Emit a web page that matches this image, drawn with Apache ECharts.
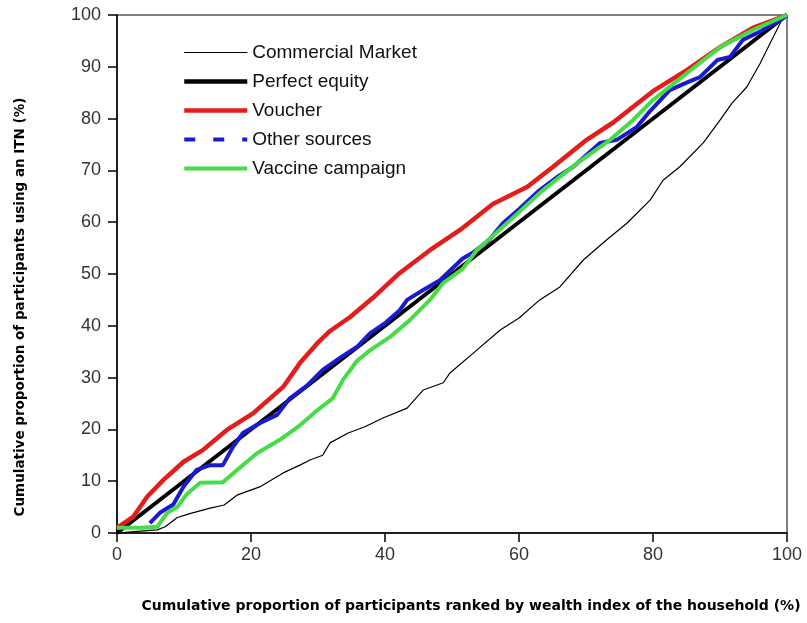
<!DOCTYPE html>
<html>
<head>
<meta charset="utf-8">
<script src="https://cdn.jsdelivr.net/npm/echarts@6/dist/echarts.min.js"></script>
<style>
  html, body { margin: 0; padding: 0; background: #fff; }
  #chart { width: 807px; height: 623px; }
</style>
</head>
<body>
<div id="chart"></div>
<script>
// series names
var seriesNames = ['Commercial Market', 'Perfect equity', 'Voucher', 'Other sources', 'Vaccine campaign'];

// [x %, y %]
var commercialMarket = [[0,0],[3,0.3],[6,0.6],[7.2,1.2],[9,3],[11,3.8],[13.9,4.8],[16,5.4],[17.9,7.3],[21.3,8.9],[24.8,11.6],[27.3,13.1],[28.8,14.1],[30.7,15],[31.8,17.4],[34.5,19.3],[37,20.5],[39.7,22.2],[43.3,24.1],[45.7,27.6],[48.7,29],[49.7,30.9],[53.7,35.3],[57.2,39.2],[60,41.5],[63.1,45],[66.1,47.5],[69.6,52.7],[73.1,56.6],[76.1,59.8],[79.6,64.3],[81.5,68.1],[84,70.7],[87.5,75.3],[90,79.7],[91.8,83],[94,86.1],[96,90.7],[97.5,94.6],[99.2,99],[100,100]];
var perfectEquity = [[0,0],[100,100]];
var voucher = [[0,1],[2.4,3.1],[4.5,7],[6.9,10.2],[9.9,13.7],[12.8,16],[16.4,19.9],[20.3,23.1],[24.8,28.2],[27.3,32.8],[29.8,36.5],[31.8,39],[34.8,41.7],[38.2,45.4],[42.2,50.2],[46.7,54.6],[51.2,58.5],[56.1,63.5],[61.2,66.8],[65.1,70.7],[70.1,75.9],[74,79.2],[80,85.3],[85.1,89.4],[90,93.8],[94.9,97.5],[100,100]];
var otherSources = [[4.9,1.9],[6.4,3.9],[8.4,5.5],[9.9,8.9],[11.9,12.2],[13.9,13.1],[15.8,13.1],[17.3,16.6],[18.8,19.3],[21.3,21.2],[23.9,22.8],[25.8,26],[28.4,28.5],[30.7,31.5],[33.5,34],[35.8,35.9],[37.8,38.6],[40,40.5],[42.2,43],[43.3,45],[45.7,46.9],[48.2,48.8],[51.6,53],[53.1,54.1],[55.5,56.5],[57.6,59.8],[60,62.5],[63.1,66.2],[66,69],[68.1,70.7],[72.1,75.3],[74.6,75.9],[77.6,78.4],[79.6,81.5],[82.5,85.5],[85.1,87],[87,88],[89.6,91.3],[91.5,91.9],[93.4,95.2],[95.5,96.5],[99,99],[100,100]];
var vaccineCampaign = [[0,1],[3.9,1],[6,1.2],[7.5,3.9],[9,5],[10.4,7.5],[12.4,9.7],[15.8,9.8],[18.4,12.7],[20.9,15.4],[24.3,18],[27.3,20.8],[29.9,23.7],[32.2,26],[33.7,29.5],[35.8,33.2],[37.8,35.3],[40.7,37.8],[43.7,41.1],[46.7,45],[48.7,48.3],[51.6,51],[53.7,54.6],[58.7,60.4],[63.6,66.2],[68.7,71.4],[73.6,75.9],[77,79.7],[80,83.6],[85.1,88.8],[90,93.8],[94.9,97.1],[100,100]];

var xTitle = 'Cumulative proportion of participants ranked by wealth index of the household (%)';
var yTitle = 'Cumulative proportion of participants using an ITN (%)';

var myChart = echarts.init(document.getElementById('chart'));
var font = '"Liberation Sans", Arial, sans-serif';
var titleFont = '"DejaVu Sans", sans-serif';

var option = {
	animation: false,
	backgroundColor: '#fff',
	grid: {
		left: 117,
		right: 20,
		top: 15,
		bottom: 90,
		show: true,
		borderColor: '#000',
		borderWidth: 1
	},
	legend: {
		orient: 'vertical',
		left: 177,
		top: 38,
		itemWidth: 63,
		itemHeight: 14,
		itemGap: 10,
		itemStyle: { opacity: 0 },
		textStyle: { fontFamily: font, fontSize: 19, color: '#111' },
		data: [
			{ name: seriesNames[0], lineStyle: { width: 1.2 } },
			{ name: seriesNames[1], lineStyle: { width: 4.5 } },
			{ name: seriesNames[2], lineStyle: { width: 4.5 } },
			{ name: seriesNames[3], lineStyle: { type: [11, 18], width: 4 } },
			{ name: seriesNames[4], lineStyle: { width: 4 } }
		]
	},
	xAxis: {
		type: 'value',
		min: 0,
		max: 100,
		interval: 20,
		axisLine: { lineStyle: { color: '#000', width: 1.5 } },
		axisTick: { length: 9, lineStyle: { color: '#000', width: 1.5 } },
		axisLabel: { fontFamily: font, fontSize: 18, color: '#333', margin: 13 },
		splitLine: { show: false }
	},
	yAxis: {
		type: 'value',
		min: 0,
		max: 100,
		interval: 10,
		axisLine: { show: true, lineStyle: { color: '#000', width: 1.5 } },
		axisTick: { show: true, length: 9, lineStyle: { color: '#000', width: 1.5 } },
		axisLabel: { fontFamily: font, fontSize: 18, color: '#333', margin: 16 },
		splitLine: { show: false }
	},
	graphic: [
		{
			type: 'text',
			x: 471,
			y: 606,
			style: {
				text: xTitle,
				font: 'bold 14px ' + titleFont,
				fill: '#000',
				align: 'center',
				verticalAlign: 'middle'
			}
		},
		{
			type: 'text',
			x: 20,
			y: 307,
			rotation: Math.PI / 2,
			style: {
				text: yTitle,
				font: 'bold 13.5px ' + titleFont,
				fill: '#000',
				align: 'center',
				verticalAlign: 'middle'
			}
		}
	],
	series: [
		{
			name: seriesNames[0],
			type: 'line',
			data: commercialMarket,
			symbol: 'none',
			lineStyle: { color: '#000', width: 1.2 },
			itemStyle: { color: '#000' }
		},
		{
			name: seriesNames[1],
			type: 'line',
			data: perfectEquity,
			symbol: 'none',
			lineStyle: { color: '#000', width: 4 },
			itemStyle: { color: '#000' }
		},
		{
			name: seriesNames[2],
			type: 'line',
			data: voucher,
			symbol: 'none',
			lineStyle: { color: '#e41c1c', width: 4.5 },
			itemStyle: { color: '#e41c1c' }
		},
		{
			name: seriesNames[3],
			type: 'line',
			data: otherSources,
			symbol: 'none',
			lineStyle: { color: '#1a1ad0', width: 4 },
			itemStyle: { color: '#1a1ad0' }
		},
		{
			name: seriesNames[4],
			type: 'line',
			data: vaccineCampaign,
			symbol: 'none',
			lineStyle: { color: '#45dc45', width: 4 },
			itemStyle: { color: '#45dc45' }
		}
	]
};

myChart.setOption(option);
</script>
</body>
</html>
